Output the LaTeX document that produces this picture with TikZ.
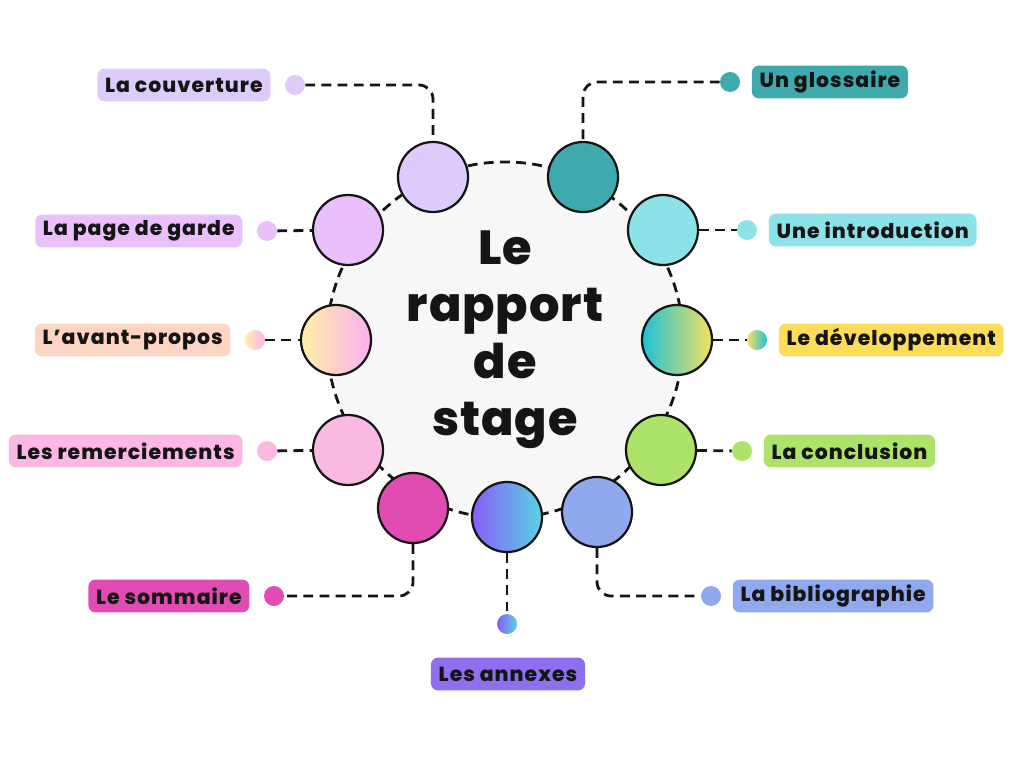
\documentclass[tikz,border=0pt]{standalone}
\usepackage{fontspec}
\setmainfont{Poppins}[BoldFont={Poppins ExtraBold}]
\usetikzlibrary{positioning}

% Couleurs
\definecolor{encre}{HTML}{151515}
\definecolor{fond}{HTML}{F7F7F7}
\definecolor{lavande}{HTML}{DCCBFB}
\definecolor{sarcelle}{HTML}{3FAAAE}
\definecolor{mauve}{HTML}{E9C0FB}
\definecolor{turquoise}{HTML}{8DE2E8}
\definecolor{peche}{HTML}{FDD5C4}
\definecolor{creme}{HTML}{FEF0A6}
\definecolor{rosevif}{HTML}{FCB0F0}
\definecolor{cyan}{HTML}{1FC2D6}
\definecolor{jaune}{HTML}{F8E05F}
\definecolor{moutarde}{HTML}{FCDD5A}
\definecolor{rose}{HTML}{FBB8E2}
\definecolor{vert}{HTML}{AEE36A}
\definecolor{fuchsia}{HTML}{E04CB3}
\definecolor{violet}{HTML}{8A5CF8}
\definecolor{ciel}{HTML}{56D4E3}
\definecolor{lilas}{HTML}{8E6FF0}
\definecolor{pervenche}{HTML}{90A8EE}

\begin{document}
\begin{tikzpicture}[
        % Unites en pixels, y vers le bas
        x=0.025cm, y=-0.025cm,
        % Grand cercle central
        noyau/.style={
            circle, draw=encre, line width=2pt,
            dash pattern=on 7pt off 4.5pt,
            fill=fond, minimum size=8.9cm,
            align=center, text=encre,
            font=\fontsize{34}{40.5}\selectfont\bfseries\addfontfeatures{LetterSpace=2}
        },
        % Bulles autour du cercle
        bulle/.style={
            circle, draw=encre, line width=1.6pt,
            minimum size=1.75cm, inner sep=0pt
        },
        % Petits points
        point/.style={
            circle, minimum size=0.5cm, inner sep=0pt
        },
        % Etiquettes
        etiquette/.style={
            rounded corners=5pt, inner xsep=5.5pt,
            minimum height=0.82cm, text=encre,
            font=\fontsize{14.5}{16}\selectfont\bfseries\addfontfeatures{LetterSpace=5}
        },
        % Liens en pointilles
        lien/.style={
            draw=encre, line width=2pt,
            dash pattern=on 7pt off 4.5pt,
            rounded corners=10pt
        }
    ]

    \useasboundingbox[fill=white] (0,0) rectangle (1024,768);

    % Cercle central
    \node[noyau] (centre) at (505,340) {Le\\rapport\\de\\stage};

    % Bulles
    \node[bulle, fill=lavande]   (couv)   at (433,177) {};
    \node[bulle, fill=sarcelle]  (gloss)  at (583,177) {};
    \node[bulle, fill=mauve]     (garde)  at (348,230) {};
    \node[bulle, fill=turquoise] (intro)  at (663,230) {};
    \node[bulle, left color=creme, right color=rosevif] (avant) at (336,340) {};
    \node[bulle, left color=cyan, right color=jaune]    (dev)   at (677,340) {};
    \node[bulle, fill=rose]      (remer)  at (348,450) {};
    \node[bulle, fill=vert]      (concl)  at (661,450) {};
    \node[bulle, fill=fuchsia]   (somm)   at (413,508) {};
    \node[bulle, left color=violet, right color=ciel]   (annex) at (507,517) {};
    \node[bulle, fill=pervenche] (biblio) at (597,512) {};

    % Points
    \node[point, fill=lavande]   (p-couv)   at (295,85) {};
    \node[point, fill=sarcelle]  (p-gloss)  at (730,82) {};
    \node[point, fill=mauve]     (p-garde)  at (267,231) {};
    \node[point, fill=turquoise] (p-intro)  at (747,230) {};
    \node[point, left color=creme, right color=rosevif] (p-avant) at (255,340) {};
    \node[point, left color=jaune, right color=cyan]    (p-dev)   at (757,340) {};
    \node[point, fill=rose]      (p-remer)  at (267,451) {};
    \node[point, fill=vert]      (p-concl)  at (742,451) {};
    \node[point, fill=fuchsia]   (p-somm)   at (274,596) {};
    \node[point, left color=violet, right color=ciel]   (p-annex) at (507,624) {};
    \node[point, fill=pervenche] (p-biblio) at (711,596) {};

    % Liens
    \draw[lien] (p-couv) -| (couv);
    \draw[lien] (p-gloss) -| (gloss);
    \draw[lien] (p-garde) -- (garde);
    \draw[lien] (intro) -- (p-intro);
    \draw[lien] (p-avant) -- (avant);
    \draw[lien] (dev) -- (p-dev);
    \draw[lien] (p-remer) -- (remer);
    \draw[lien] (concl) -- (p-concl);
    \draw[lien] (somm) |- (p-somm);
    \draw[lien] (annex) -- (p-annex);
    \draw[lien] (biblio) |- (p-biblio);

    % Etiquettes a gauche
    \node[etiquette, fill=lavande, left=10pt of p-couv]   (e-couv)  {La couverture};
    \node[etiquette, fill=mauve,   left=10pt of p-garde]  (e-garde) {La page de garde};
    \node[etiquette, fill=peche,   left=10pt of p-avant]  (e-avant) {L’avant-propos};
    \node[etiquette, fill=rose,    left=10pt of p-remer]  (e-remer) {Les remerciements};
    \node[etiquette, fill=fuchsia, left=10pt of p-somm]   (e-somm)  {Le sommaire};

    % Etiquettes a droite
    \node[etiquette, fill=sarcelle,  right=8pt of p-gloss]  (e-gloss)  {Un glossaire};
    \node[etiquette, fill=turquoise, right=8pt of p-intro]  (e-intro)  {Une introduction};
    \node[etiquette, fill=moutarde,  right=8pt of p-dev]    (e-dev)    {Le développement};
    \node[etiquette, fill=vert,      right=8pt of p-concl]  (e-concl)  {La conclusion};
    \node[etiquette, fill=pervenche, right=8pt of p-biblio] (e-biblio) {La bibliographie};

    % Etiquette en bas
    \node[etiquette, fill=lilas] (e-annex) at (508,674) {Les annexes};

\end{tikzpicture}
\end{document}
